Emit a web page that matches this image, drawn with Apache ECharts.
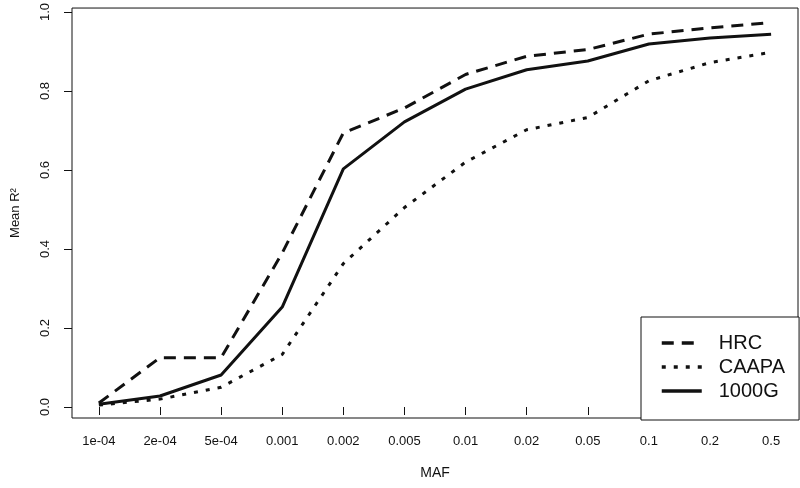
<!DOCTYPE html>
<html>
<head>
<meta charset="utf-8">
<script src="https://cdn.jsdelivr.net/npm/echarts@6/dist/echarts.min.js"></script>
<style>
  html, body { margin: 0; padding: 0; background: #fff; }
  #chart { width: 800px; height: 488px; }
</style>
</head>
<body>
<div id="chart"></div>
<script>
// MAF bins along the x axis
const mafLabels = ['1e-04', '2e-04', '5e-04', '0.001', '0.002', '0.005', '0.01', '0.02', '0.05', '0.1', '0.2', '0.5']
const yTicks = [0, 0.2, 0.4, 0.6, 0.8, 1.0]

// mean R^2 per panel
const hrc   = [0.010, 0.125, 0.125, 0.390, 0.694, 0.757, 0.842, 0.888, 0.905, 0.944, 0.960, 0.973]
const caapa = [0.005, 0.020, 0.050, 0.133, 0.363, 0.505, 0.620, 0.702, 0.733, 0.826, 0.872, 0.898]
const g1000 = [0.007, 0.028, 0.081, 0.253, 0.603, 0.722, 0.805, 0.854, 0.876, 0.919, 0.934, 0.944]

const font = 'Liberation Sans, Arial, sans-serif'
const ink = '#111'

const toPts = arr => arr.map((v, i) => [i + 1, v])

function makeSeries(name, values, type) {
  return {
    name,
    type: 'line',
    data: toPts(values),
    symbol: 'none',
    silent: true,
    color: ink,
    lineStyle: { color: ink, width: 3, type, cap: 'butt' }
  }
}

const chart = echarts.init(document.getElementById('chart'), null, { renderer: 'canvas' })

chart.setOption({
  backgroundColor: '#fff',
  animation: false,
  grid: {
    left: 72, right: 2, top: 7, bottom: 70,
    show: true, borderColor: ink, borderWidth: 1, backgroundColor: 'transparent'
  },
  xAxis: {
    type: 'value',
    min: 0.56, max: 12.44,
    name: 'MAF', nameLocation: 'middle', nameGap: 48,
    nameTextStyle: { fontFamily: font, fontSize: 14, color: ink },
    axisLine: { show: false },
    axisTick: { show: true, length: 8, customValues: mafLabels.map((_, i) => i + 1), lineStyle: { color: ink } },
    axisLabel: {
      customValues: mafLabels.map((_, i) => i + 1),
      formatter: v => mafLabels[Math.round(v) - 1],
      fontFamily: font, fontSize: 13, color: ink, margin: 17
    },
    splitLine: { show: false }
  },
  yAxis: {
    type: 'value',
    min: -0.0278, max: 1.0101,
    name: 'Mean R²', nameLocation: 'middle', nameGap: 50,
    nameTextStyle: { fontFamily: font, fontSize: 13, color: ink },
    axisLine: { show: false },
    axisTick: { show: true, length: 8, customValues: yTicks, lineStyle: { color: ink } },
    axisLabel: {
      customValues: yTicks,
      formatter: v => v.toFixed(1),
      rotate: 90,
      fontFamily: font, fontSize: 13, color: ink, margin: 20
    },
    splitLine: { show: false }
  },
  legend: {
    orient: 'vertical',
    left: 641, top: 317,
    width: 156,
    padding: [15, 14, 18, 19],
    itemGap: 2,
    itemWidth: 40, itemHeight: 14,
    borderColor: ink, borderWidth: 1,
    backgroundColor: '#fff',
    itemStyle: { opacity: 0 },
    lineStyle: { width: 3.5, color: ink },
    textStyle: { fontFamily: font, fontSize: 20, color: ink, lineHeight: 22, padding: [0, 0, 0, 12] },
    data: ['HRC', 'CAAPA', '1000G']
  },
  series: [
    makeSeries('HRC', hrc, [12, 8]),
    makeSeries('CAAPA', caapa, [4, 8]),
    makeSeries('1000G', g1000, 'solid')
  ]
})
</script>
</body>
</html>
